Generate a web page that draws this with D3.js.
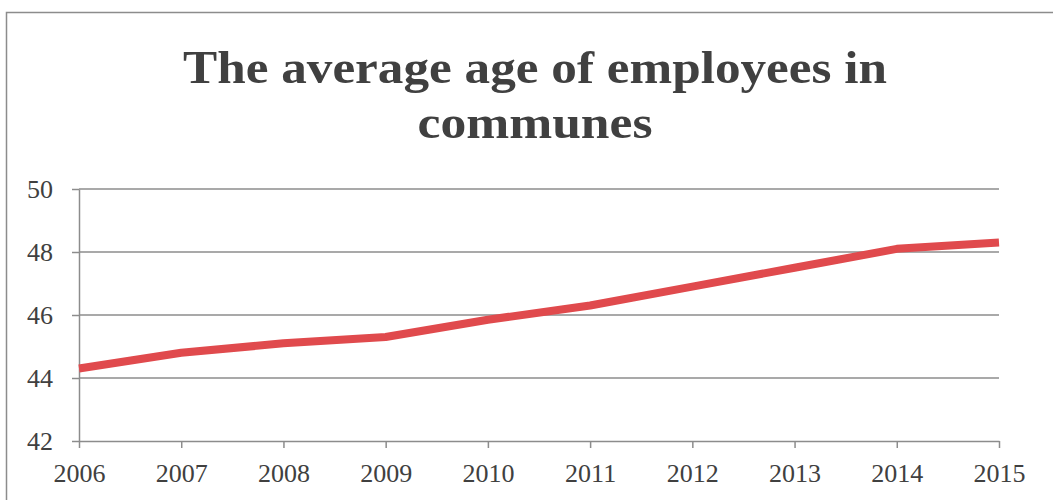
<!DOCTYPE html>
<html>
<head>
<meta charset="utf-8">
<script src="https://cdn.jsdelivr.net/npm/d3@7"></script>
<style>
    body { margin: 0; background: #fff; }
    text { font-family: "Liberation Serif", "DejaVu Serif", serif; fill: #404040; }
</style>
</head>
<body>
<svg id="chart" width="1053" height="500"></svg>
<script>
/*globals d3*/

var years = [2006, 2007, 2008, 2009, 2010, 2011, 2012, 2013, 2014, 2015],
    averageAge = [44.3, 44.8, 45.1, 45.3, 45.85, 46.3, 46.9, 47.5, 48.1, 48.3],
    yTicks = [42, 44, 46, 48, 50],
    titleLines = ["The average age of employees in", "communes"];

(function () {
    "use strict";

    var svg = d3.select("#chart"),
        grey = "#8c8c8c",
        x,
        y,
        line,
        xAxis,
        yAxis;

    // outer frame (runs off the right and bottom of the picture)
    svg.append("rect")
        .attr("x", 6.5)
        .attr("y", 12.5)
        .attr("width", 1100)
        .attr("height", 600)
        .attr("fill", "none")
        .attr("stroke", grey)
        .attr("stroke-width", 1.5);

    svg.selectAll("text.title").data(titleLines)
        .enter().append("text")
        .attr("class", "title")
        .attr("x", 535)
        .attr("y", function (d, i) { return 83 + i * 55; })
        .attr("text-anchor", "middle")
        .attr("textLength", function (d, i) { return i === 0 ? 704 : 235; })
        .attr("lengthAdjust", "spacingAndGlyphs")
        .style("font-size", "47px")
        .style("font-weight", "bold")
        .text(function (d) { return d; });

    x = d3.scalePoint().domain(years).range([79, 999]);
    y = d3.scaleLinear().domain([42, 50]).range([441, 189]);

    // horizontal gridlines
    svg.append("g").selectAll("line").data(yTicks.slice(1))
        .enter().append("line")
        .attr("x1", 79)
        .attr("x2", 999)
        .attr("y1", function (d) { return y(d); })
        .attr("y2", function (d) { return y(d); })
        .attr("stroke", grey)
        .attr("stroke-width", 1.5);

    yAxis = svg.append("g")
        .attr("transform", "translate(79,0)")
        .call(d3.axisLeft(y).tickValues(yTicks).tickSize(7).tickSizeOuter(0).tickPadding(19));

    xAxis = svg.append("g")
        .attr("transform", "translate(0,441)")
        .call(d3.axisBottom(x).tickSize(7).tickSizeOuter(0).tickPadding(16));

    [xAxis, yAxis].forEach(function (g) {
        g.selectAll("path.domain").attr("stroke", grey).attr("stroke-width", 1.5);
        g.selectAll(".tick line").attr("stroke", grey).attr("stroke-width", 1.5);
        g.selectAll(".tick text")
            .attr("fill", "#404040")
            .style("font-family", "'Liberation Serif', serif")
            .style("font-size", "26px");
    });

    line = d3.line()
        .x(function (d, i) { return x(years[i]); })
        .y(function (d) { return y(d); });

    svg.append("path")
        .datum(averageAge)
        .attr("d", line)
        .attr("fill", "none")
        .attr("stroke", "#e04a4d")
        .attr("stroke-width", 8)
        .attr("stroke-linejoin", "round");
}());
</script>
</body>
</html>
